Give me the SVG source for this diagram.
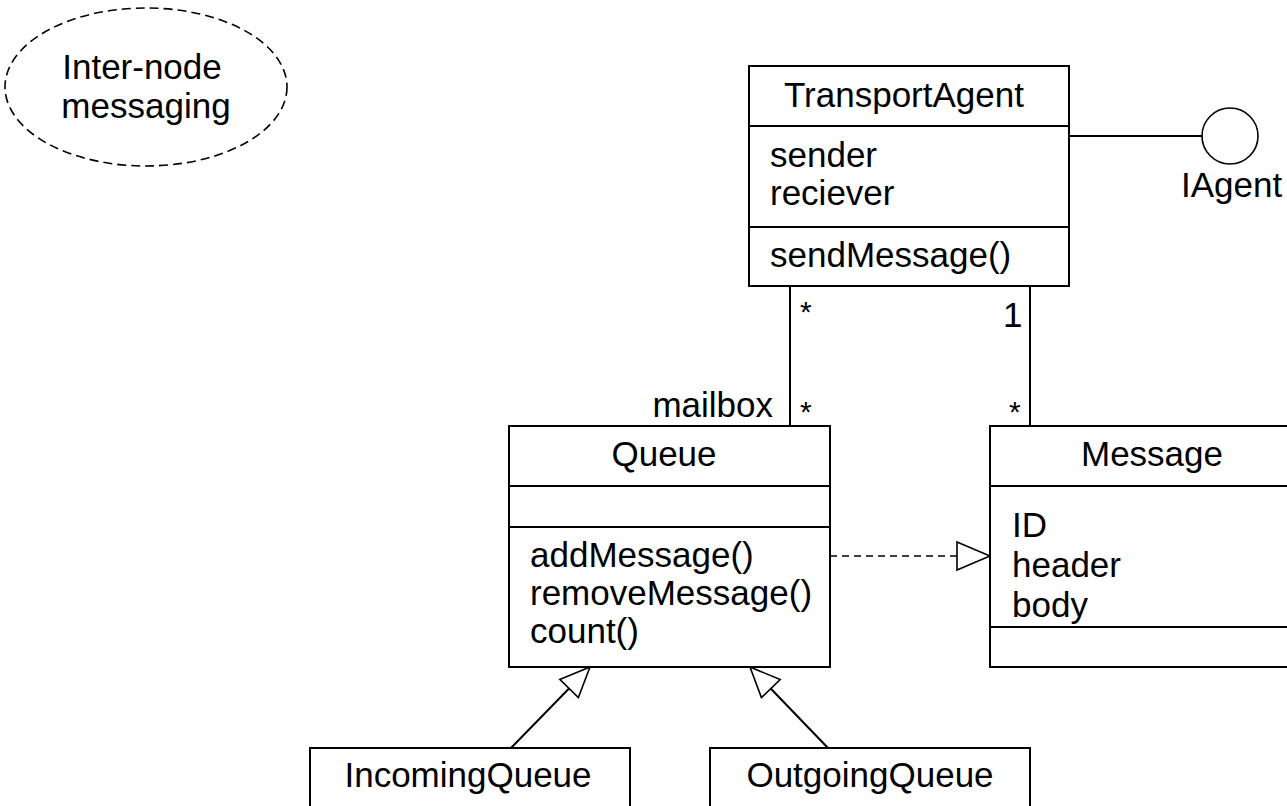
<svg xmlns="http://www.w3.org/2000/svg" width="1287" height="806" viewBox="0 0 1287 806">
<style>
  text { font-family: "Liberation Sans", Arial, sans-serif; font-size: 35px; fill: #000; }
  .mid { text-anchor: middle; }
  .end { text-anchor: end; }
  .star { font-size: 30px; }
  .box { fill: #fff; stroke: #000; stroke-width: 2; }
  .ln { fill: none; stroke: #000; stroke-width: 2; }
  .dash { fill: none; stroke: #000; stroke-width: 1.6; stroke-dasharray: 7 5; }
  .usecase { fill: #fff; stroke: #000; stroke-width: 1.6; stroke-dasharray: 9 5; }
</style>
<defs>
  <marker id="gen" viewBox="-2 -15 34 30" refX="30" refY="0" markerWidth="34" markerHeight="30" markerUnits="userSpaceOnUse" orient="auto">
    <path d="M0,-13 L30,0 L0,13 Z" fill="#fff" stroke="#000" stroke-width="1.6"/>
  </marker>
  <marker id="real" viewBox="-2 -16 37 32" refX="33" refY="0" markerWidth="37" markerHeight="32" markerUnits="userSpaceOnUse" orient="auto">
    <path d="M0,-14 L33,0 L0,14 Z" fill="#fff" stroke="#000" stroke-width="1.6"/>
  </marker>
</defs>
<rect width="1287" height="806" fill="#fff"/>

<g id="usecase-internode">
  <ellipse class="usecase" cx="146" cy="87" rx="141" ry="79"/>
  <text class="mid" x="142" y="79">Inter-node</text>
  <text class="mid" x="146" y="118">messaging</text>
</g>

<g id="connectors">
  <line class="ln" x1="1069" y1="136" x2="1202" y2="136"/>
  <line class="ln" x1="790" y1="286" x2="790" y2="426"/>
  <line class="ln" x1="1030" y1="286" x2="1030" y2="426"/>
  <line class="dash" x1="830" y1="556" x2="990" y2="556" marker-end="url(#real)"/>
  <line class="ln" x1="511" y1="748" x2="590" y2="667" marker-end="url(#gen)"/>
  <line class="ln" x1="828" y1="748" x2="750" y2="667" marker-end="url(#gen)"/>
  <text class="star" x="800" y="322">*</text>
  <text x="1003" y="327">1</text>
  <text class="star" x="800" y="422">*</text>
  <text class="end" x="773" y="417">mailbox</text>
  <text class="star" x="1009" y="422">*</text>
</g>

<g id="TransportAgent">
  <rect class="box" x="749" y="66" width="320" height="220"/>
  <line class="ln" x1="749" y1="126" x2="1069" y2="126"/>
  <line class="ln" x1="749" y1="227" x2="1069" y2="227"/>
  <text class="mid" x="904" y="107">TransportAgent</text>
  <text x="770" y="167">sender</text>
  <text x="770" y="205">reciever</text>
  <text x="770" y="267">sendMessage()</text>
</g>

<g id="IAgent">
  <circle cx="1230" cy="136" r="28" fill="#fff" stroke="#000" stroke-width="1.6"/>
  <text x="1181" y="197">IAgent</text>
</g>

<g id="Queue">
  <rect class="box" x="509" y="426" width="321" height="241"/>
  <line class="ln" x1="509" y1="486" x2="830" y2="486"/>
  <line class="ln" x1="509" y1="527" x2="830" y2="527"/>
  <text class="mid" x="664" y="466">Queue</text>
  <text x="530" y="567">addMessage()</text>
  <text x="530" y="605">removeMessage()</text>
  <text x="530" y="643">count()</text>
</g>

<g id="Message">
  <rect class="box" x="990" y="426" width="322" height="241"/>
  <line class="ln" x1="990" y1="486" x2="1312" y2="486"/>
  <line class="ln" x1="990" y1="627" x2="1312" y2="627"/>
  <text class="mid" x="1152" y="466">Message</text>
  <text x="1012" y="537">ID</text>
  <text x="1012" y="577">header</text>
  <text x="1012" y="617">body</text>
</g>

<g id="IncomingQueue">
  <rect class="box" x="310" y="748" width="320" height="80"/>
  <text class="mid" x="468" y="787">IncomingQueue</text>
</g>

<g id="OutgoingQueue">
  <rect class="box" x="710" y="748" width="320" height="80"/>
  <text class="mid" x="870" y="787">OutgoingQueue</text>
</g>
</svg>
